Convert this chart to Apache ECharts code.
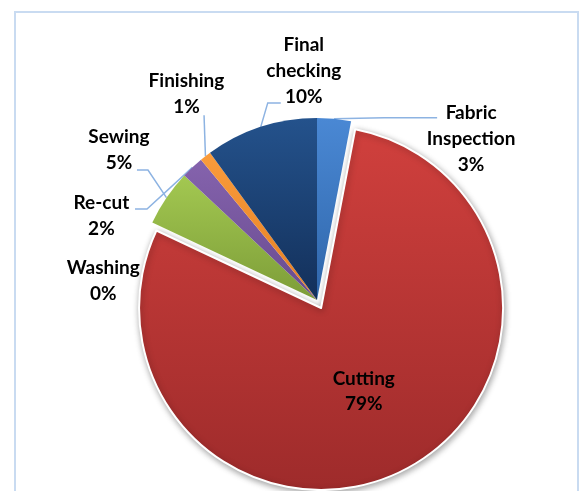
<!DOCTYPE html>
<html><head><meta charset="utf-8">
<script src="https://cdn.jsdelivr.net/npm/echarts@6/dist/echarts.min.js"></script>
<style>html,body{margin:0;padding:0;background:#fff}#c{width:582px;height:491px}</style>
</head><body><div id="c"></div>
<script>
// ---- data ----
const categories = ['Fabric Inspection', 'Cutting', 'Washing', 'Sewing', 'Re-cut', 'Finishing', 'Final checking'];
const values = [3, 79, 0, 5, 2, 1, 10];

// ---- styles ----
const colorTop =    ['#4a88d4', '#d0403d', '#4bacc6', '#a3c851', '#8563ad', '#fa9c3c', '#24528c'];
const colorBottom = ['#2f66aa', '#9e2b2b', '#3a8ea6', '#7d9d38', '#684b8f', '#e57f22', '#13305a'];
// label placement relative to the slice's leader-line anchor (dx, dy)
const labelOffset = [[137, 20], null, [-49, 58], [-47.5, -47.7], [-91, 49], [-19, -62.7], [43, -56]];
const linePts = [
  [[50, -1], [103, -1]],
  null,
  [[0, 0], [0, 0]],
  [[-18.5, -27.7], [-29.5, -27.7]],
  [[-45.4, 41.7], [-57.4, 41.7]],
  [[-1.4, -41], [-1.4, -41]],
  [[7, -24], [20, -24]]
];

const chart = echarts.init(document.getElementById('c'), null, {renderer: 'canvas'});

const data = categories.map((name, i) => {
  const item = {
    name: name,
    value: values[i],
    itemStyle: {
      color: {type: 'linear', x: 0, y: 0, x2: 0, y2: 1,
        colorStops: [{offset: 0, color: colorTop[i]}, {offset: 1, color: colorBottom[i]}]}
    }
  };
  if (name === 'Cutting') {
    item.selected = true;
    item.itemStyle.borderColor = '#ffffff';
    item.itemStyle.borderWidth = 2;
    item.itemStyle.shadowBlur = 6;
    item.itemStyle.shadowColor = 'rgba(0,0,0,0.35)';
    item.itemStyle.shadowOffsetX = 1;
    item.itemStyle.shadowOffsetY = 2;
    item.label = {position: 'inside', lineHeight: 25, offset: [6, 0]};
  }
  if (name === 'Washing') {
    item.labelLine = {lineStyle: {opacity: 0}};
  }
  return item;
});

chart.setOption({
  animation: false,
  backgroundColor: '#ffffff',
  graphic: [{
    type: 'rect', z: -1,
    shape: {x: 15, y: 12, width: 563, height: 490},
    style: {fill: '#ffffff', stroke: '#c9dbf1', lineWidth: 2}
  }],
  series: [{
    type: 'pie',
    center: [317, 300],
    radius: 182,
    startAngle: 90,
    clockwise: true,
    selectedMode: true,
    selectedOffset: 9,
    percentPrecision: 0,
    avoidLabelOverlap: false,
    data: data,
    label: {
      show: true,
      position: 'outside',
      color: '#000000',
      fontFamily: 'Lato, "Noto Sans", sans-serif',
      fontWeight: 'bold',
      fontSize: 19,
      lineHeight: 26,
      formatter: p => p.name.replace(' ', '\n') + '\n' + p.percent + '%'
    },
    labelLine: {
      show: true,
      length: 10,
      length2: 10,
      smooth: false,
      lineStyle: {color: '#8db3e2', width: 1.5}
    },
    labelLayout: function (params) {
      const i = params.dataIndex;
      const off = labelOffset[i];
      if (!off || !params.labelLinePoints) return {};
      const p0 = params.labelLinePoints[0];
      const lp = linePts[i];
      return {
        x: p0[0] + off[0],
        y: p0[1] + off[1],
        align: 'center',
        verticalAlign: 'middle',
        labelLinePoints: [
          [p0[0], p0[1]],
          [p0[0] + lp[0][0], p0[1] + lp[0][1]],
          [p0[0] + lp[1][0], p0[1] + lp[1][1]]
        ]
      };
    },
    emphasis: {disabled: true}
  }]
});
</script>
</body></html>
